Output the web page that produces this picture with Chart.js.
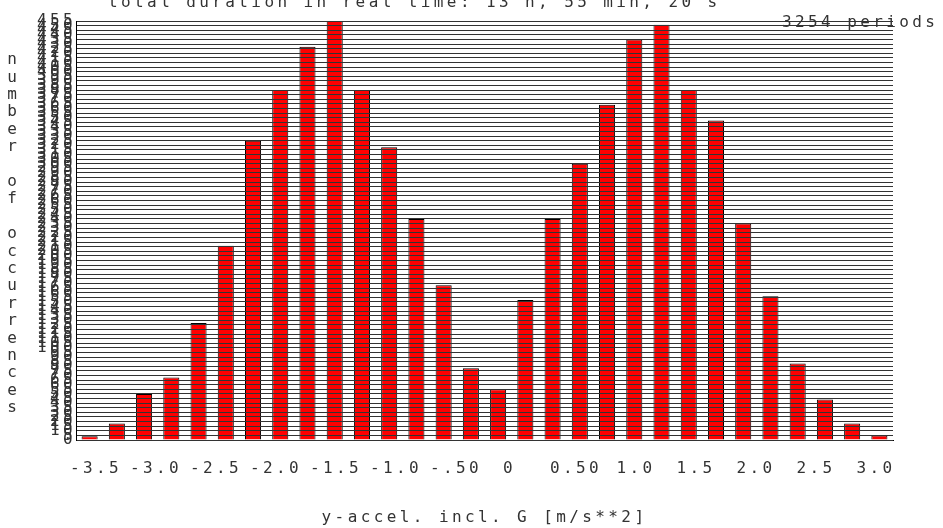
<!DOCTYPE html>
<html><head><meta charset="utf-8">
<script src="https://cdn.jsdelivr.net/npm/chart.js@4/dist/chart.umd.min.js"></script>
<style>html,body{margin:0;padding:0;background:#fff;overflow:hidden}canvas{display:block}</style>
</head><body>
<canvas id="c" width="943" height="528"></canvas>
<script>
// ---- data ----
const binCenters = ['-3.55','-3.33','-3.10','-2.87','-2.65','-2.42','-2.19','-1.97','-1.74','-1.51',
                    '-1.28','-1.06','-0.83','-0.60','-0.38','-0.15','0.08','0.30','0.53','0.76',
                    '0.99','1.21','1.44','1.67','1.89','2.12','2.35','2.57','2.80','3.03'];
const counts = [4, 18, 50, 68, 127, 211, 325, 380, 427, 455,
                380, 318, 240, 168, 78, 55, 152, 240, 300, 364,
                435, 451, 380, 347, 235, 156, 83, 44, 18, 5];
const xTickValues = [-3.5, -3.0, -2.5, -2.0, -1.5, -1.0, -0.5, 0, 0.5, 1.0, 1.5, 2.0, 2.5, 3.0];
const xTickLabels = ['-3.5','-3.0','-2.5','-2.0','-1.5','-1.0','-.50','0 ','0.50','1.0','1.5','2.0','2.5','3.0'];
const yMin = 0, yMax = 455, yStep = 5;
const xTitle = 'y-accel. incl. G [m/s**2]';
const yTitle = 'number of occurrences';
const topTitle = 'total duration in real time: 13 h, 55 min, 20 s';
const periodsLabel = '3254 periods';

// ---- style ----
const FAMILY = "'DejaVu Sans Mono', monospace";
const FONT = {family: FAMILY, size: 16};
const SPACING = '3.4px';
const TEXT = '#333';

const spacingPlugin = {
  id: 'spacing',
  beforeUpdate(chart) { chart.ctx.letterSpacing = SPACING; },
  beforeLayout(chart) { chart.ctx.letterSpacing = SPACING; },
  beforeRender(chart) { chart.ctx.letterSpacing = SPACING; }
};

const textPlugin = {
  id: 'texts',
  beforeDraw(chart) {
    const ctx = chart.ctx;
    ctx.save();
    ctx.letterSpacing = SPACING;
    ctx.font = `16px ${FAMILY}`;
    ctx.fillStyle = TEXT;
    ctx.textAlign = 'left';
    ctx.textBaseline = 'alphabetic';
    ctx.fillText(topTitle, 108, 7);
    ctx.fillText(periodsLabel, 782, 27);
    ctx.letterSpacing = '0px';
    ctx.textAlign = 'center';
    ctx.textBaseline = 'middle';
    Array.from(yTitle).forEach((ch, i) => ctx.fillText(ch, 12, 60 + i * 17.4));
    ctx.restore();
    ctx.letterSpacing = SPACING;
  }
};

new Chart(document.getElementById('c'), {
  type: 'bar',
  data: {
    labels: binCenters,
    datasets: [{
      data: counts,
      backgroundColor: '#ff0000',
      borderColor: '#000',
      borderWidth: 1,
      barPercentage: 0.59,
      categoryPercentage: 1.0,
      xAxisID: 'x',
      yAxisID: 'y'
    }]
  },
  options: {
    responsive: false,
    animation: false,
    devicePixelRatio: 1,
    layout: {padding: {top: 21, right: 50, left: 0, bottom: 0}},
    plugins: {legend: {display: false}, tooltip: {enabled: false}},
    scales: {
      x: {
        type: 'category',
        display: false,
        offset: true,
        position: 'bottom'
      },
      x2: {
        type: 'linear',
        position: 'bottom',
        offset: false,
        min: -3.6667,
        max: 3.1417,
        afterBuildTicks: (s) => { s.ticks = xTickValues.map(v => ({value: v})); },
        afterFit: (s) => { s.height = 88; },
        grid: {display: false, drawTicks: false, offset: false},
        border: {display: true, color: '#000', width: 1},
        ticks: {
          autoSkip: false, maxRotation: 0, minRotation: 0,
          padding: 19, font: FONT, color: TEXT,
          callback: (v, i) => xTickLabels[i]
        },
        title: {display: true, text: xTitle, font: FONT, color: TEXT, padding: {top: 0, bottom: 1}}
      },
      y: {
        min: yMin, max: yMax,
        afterFit: (s) => { s.width = 76; },
        grid: {color: '#333', lineWidth: 1, drawTicks: false, z: 1},
        border: {display: true, color: '#000', width: 1, z: 1},
        ticks: {stepSize: yStep, autoSkip: false, padding: 0, font: FONT, color: TEXT}
      }
    }
  },
  plugins: [spacingPlugin, textPlugin]
});
</script>
</body></html>
